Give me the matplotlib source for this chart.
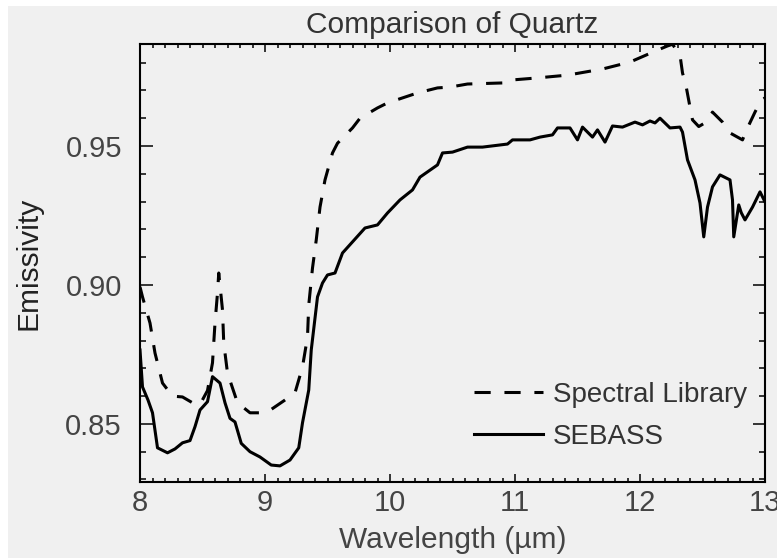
import numpy as np
import matplotlib
matplotlib.use("Agg")
import matplotlib.pyplot as plt
from matplotlib.patches import Rectangle
from matplotlib.ticker import MultipleLocator

plt.rcParams['font.family'] = ['Liberation Sans', 'DejaVu Sans']

# SEBASS measured emissivity (solid)
sebass_wl = [8.00, 8.02, 8.064, 8.10, 8.14, 8.22, 8.28, 8.34, 8.40, 8.44, 8.48, 8.54,
             8.58, 8.64, 8.68, 8.72, 8.76, 8.81, 8.88, 8.96, 9.05, 9.12, 9.20, 9.27,
             9.30, 9.35, 9.37, 9.42, 9.46, 9.50, 9.56, 9.62, 9.70, 9.80, 9.90, 9.98,
             10.08, 10.18, 10.24, 10.38, 10.42, 10.50, 10.62, 10.74, 10.94, 10.98,
             11.12, 11.20, 11.30, 11.34, 11.44, 11.50, 11.54, 11.58, 11.62, 11.66,
             11.72, 11.78, 11.86, 11.96, 12.02, 12.08, 12.12, 12.16, 12.24, 12.32,
             12.34, 12.38, 12.44, 12.48, 12.51, 12.54, 12.58, 12.64, 12.72, 12.74,
             12.75, 12.79, 12.81, 12.84, 12.90, 12.96, 13.00]
sebass_em = [0.8766, 0.8633, 0.8586, 0.8540, 0.8414, 0.8396, 0.8410, 0.8432, 0.8440,
             0.8490, 0.8550, 0.8580, 0.8670, 0.8647, 0.8576, 0.8520, 0.8507, 0.8430,
             0.8400, 0.8381, 0.8352, 0.8349, 0.8370, 0.8414, 0.8504, 0.8622, 0.8766,
             0.8957, 0.9007, 0.9036, 0.9043, 0.9115, 0.9155, 0.9205, 0.9216, 0.9259,
             0.9306, 0.9342, 0.9388, 0.9432, 0.9475, 0.9478, 0.9496, 0.9496, 0.9507,
             0.9522, 0.9522, 0.9532, 0.9540, 0.9565, 0.9565, 0.9522, 0.9568, 0.9550,
             0.9532, 0.9558, 0.9514, 0.9572, 0.9568, 0.9586, 0.9576, 0.9590, 0.9583,
             0.9600, 0.9565, 0.9568, 0.9550, 0.9450, 0.9378, 0.9295, 0.9173, 0.9280,
             0.9353, 0.9396, 0.9378, 0.9306, 0.9173, 0.9288, 0.9260, 0.9234, 0.9280,
             0.9335, 0.9299]

# Spectral library emissivity (dashed)
lib_wl = [8.00, 8.02, 8.08, 8.12, 8.18, 8.26, 8.34, 8.42, 8.48, 8.54, 8.58, 8.60,
          8.62, 8.63, 8.66, 8.67, 8.70, 8.78, 8.88, 8.98, 9.02, 9.16, 9.24, 9.30,
          9.34, 9.35, 9.38, 9.41, 9.44, 9.48, 9.54, 9.58, 9.70, 9.76, 9.90, 9.98,
          10.12, 10.22, 10.38, 10.48, 10.62, 10.91, 10.96, 11.18, 11.42, 11.70,
          11.92, 12.14, 12.22, 12.26, 12.32, 12.34, 12.37, 12.40, 12.42, 12.47,
          12.53, 12.58, 12.66, 12.72, 12.82, 12.86, 12.92, 12.97, 13.00]
lib_em = [0.8993, 0.8957, 0.8863, 0.8755, 0.8647, 0.8600, 0.8597, 0.8576, 0.8570,
          0.8620, 0.8720, 0.8863, 0.8971, 0.9043, 0.8910, 0.8791, 0.8683, 0.8576,
          0.8540, 0.8540, 0.8543, 0.8586, 0.8612, 0.8705, 0.8813, 0.8928, 0.9061,
          0.9162, 0.9280, 0.9378, 0.9475, 0.9510, 0.9565, 0.9600, 0.9637, 0.9655,
          0.9676, 0.9691, 0.9709, 0.9712, 0.9723, 0.9727, 0.9737, 0.9745, 0.9755,
          0.9777, 0.9802, 0.9845, 0.9860, 0.9866, 0.9827, 0.9763, 0.9712, 0.9640,
          0.9594, 0.9570, 0.9586, 0.9622, 0.9586, 0.9547, 0.9522, 0.9565, 0.9622,
          0.9665, 0.9673]

bg = '#f0f0f0'
fig = plt.figure(figsize=(7.77, 5.58), dpi=100, facecolor='white')
# grey panel with a thin white strip at top and left
fig.patches.append(Rectangle((8 / 777, 0), 1, 1 - 6 / 558, transform=fig.transFigure,
                             facecolor=bg, edgecolor='none', zorder=-10))
ax = fig.add_axes([140 / 777, 1 - 482 / 558, 625 / 777, 438 / 558])
ax.set_facecolor(bg)

ax.plot(lib_wl, lib_em, color='black', lw=2.2, dashes=(5.3, 4.5), label='Spectral Library')
ax.plot(sebass_wl, sebass_em, color='black', lw=2.2, label='SEBASS')

ax.set_xlim(8, 13)
ax.set_ylim(0.8291, 0.9867)
ax.xaxis.set_major_locator(MultipleLocator(1))
ax.xaxis.set_minor_locator(MultipleLocator(0.1))
ax.yaxis.set_major_locator(MultipleLocator(0.05))
ax.yaxis.set_minor_locator(MultipleLocator(0.01))
ax.yaxis.set_major_formatter(plt.FormatStrFormatter('%.2f'))

ax.tick_params(axis='both', which='both', direction='in', top=True, right=True,
               colors='black', labelcolor='#444444', labelsize=21)
ax.tick_params(axis='y', which='major', length=9, width=1.1, pad=13)
ax.tick_params(axis='y', which='minor', length=4.5, width=1.1)
ax.tick_params(axis='x', which='major', length=5.5, width=1.1, pad=5)
ax.tick_params(axis='x', which='minor', length=3, width=1.1)
for s in ax.spines.values():
    s.set_linewidth(1.5)

ax.set_title('Comparison of Quartz', fontsize=21.5, color='#333333', pad=8)
ax.set_xlabel('Wavelength (µm)', fontsize=21.5, color='#444444')
ax.xaxis.set_label_coords(0.5, -0.10)
ax.set_ylabel('Emissivity', fontsize=21.5, color='#222222')
ax.yaxis.set_label_coords(-0.178, 0.5)
ax.yaxis.label.set_va('center')

leg = ax.legend(loc='center left', bbox_to_anchor=(0.534, 0.151), frameon=False,
                fontsize=20, handlelength=2.5, handletextpad=0.35, labelspacing=0.57,
                borderpad=0, borderaxespad=0)
for t in leg.get_texts():
    t.set_color('#333333')

fig.savefig('out.png', dpi=100, facecolor=fig.get_facecolor())
